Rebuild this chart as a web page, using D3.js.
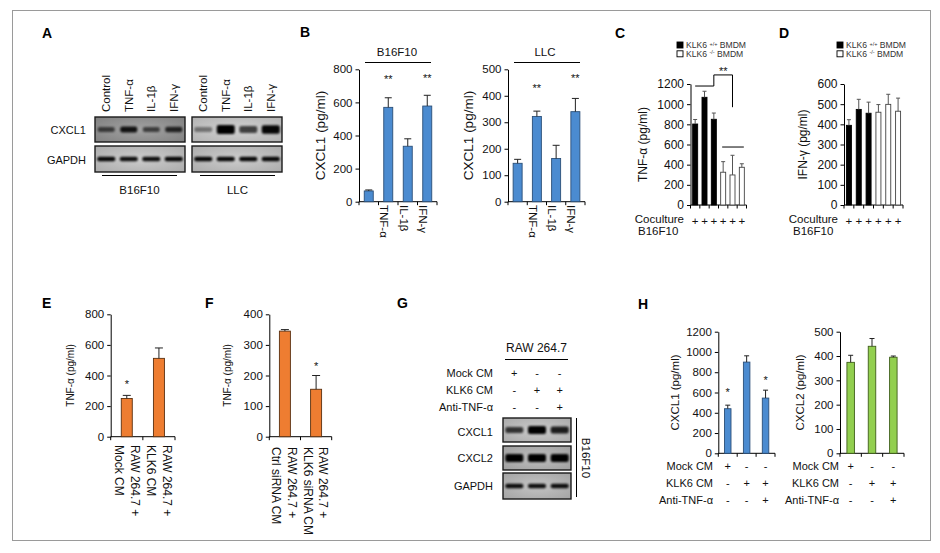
<!DOCTYPE html>
<html><head><meta charset="utf-8">
<script src="https://cdn.jsdelivr.net/npm/d3@7"></script>
<style>
body{margin:0;background:#fff;}
svg{display:block;font-family:"Liberation Sans",Arial,sans-serif;}
</style>
</head><body>
<svg id="fig" width="940" height="553"></svg>
<script>
// ---------------- DATA ----------------
const blotLanesA = ["Control", "TNF-α", "IL-1β", "IFN-γ"];
const blotA_B16_CXCL1 = [0.45, 0.8, 0.45, 0.65];
const blotA_B16_GAPDH = [0.9, 0.85, 0.85, 0.9];
const blotA_LLC_CXCL1 = [0.2, 1.0, 0.55, 0.9];
const blotA_LLC_GAPDH = [0.9, 0.9, 0.9, 0.9];

const catB = ["Control", "TNF-α", "IL-1β", "IFN-γ"];
const tickLabelsB = ["", "TNF-α", "IL-1β", "IFN-γ"];
const b16CXCL1 = [65, 570, 335, 578];
const b16CXCL1Err = [6, 58, 45, 65];
const sigB16 = ["", "**", "", "**"];
const llcCXCL1 = [145, 322, 163, 340];
const llcCXCL1Err = [15, 20, 50, 50];
const sigLLC = ["", "**", "", "**"];

const catCD = ["wt1", "wt2", "wt3", "ko1", "ko2", "ko3"];
const genotypeCD = ["+/+", "+/+", "+/+", "-/-", "-/-", "-/-"];
const legendCD = ["+/+", "-/-"];
const tnfC = [803, 1068, 850, 325, 298, 374];
const tnfCErr = [45, 60, 62, 105, 195, 35];
const ifnD = [395, 474, 455, 460, 499, 465];
const ifnDErr = [28, 50, 55, 38, 50, 65];
const cocultureMarks = ["+", "+", "+", "+", "+", "+"];

const catE = ["Mock", "KLK6"];
const labelsE = [["RAW 264.7 +", "Mock CM"], ["RAW 264.7 +", "KLK6 CM"]];
const tnfE = [250, 512];
const tnfEErr = [20, 68];
const sigE = ["*", ""];

const catF = ["Ctrl", "KLK6si"];
const labelsF = [["RAW 264.7 +", "Ctrl siRNA CM"], ["RAW 264.7 +", "KLK6 siRNA CM"]];
const tnfF = [345, 155];
const tnfFErr = [5, 45];
const sigF = ["", "*"];

const rowLabelsGH = ["Mock CM", "KLK6 CM", "Anti-TNF-α"];
const treatGH = [["+", "-", "-"], ["-", "+", "+"], ["-", "-", "+"]];
const blotG_CXCL1 = [0.6, 1.0, 0.75];
const blotG_CXCL2 = [0.95, 0.95, 0.95];
const blotG_GAPDH = [0.85, 0.85, 0.85];

const catH = ["Mock", "KLK6", "KLK6+Anti"];
const cxcl1H = [440, 900, 545];
const cxcl1HErr = [35, 62, 78];
const sigH1 = ["*", "", "*"];
const cxcl2H = [374, 440, 395];
const cxcl2HErr = [29, 32, 5];

// ---------------- DRAWING ----------------
const svg = d3.select("#fig");
const INK = "#111";

const defs = svg.append("defs");
defs.append("filter").attr("id", "blur").attr("x", "-50%").attr("y", "-100%").attr("width", "200%").attr("height", "300%")
  .append("feGaussianBlur").attr("stdDeviation", 1.1);

// frame
svg.append("rect").attr("x", 12.5).attr("y", 10.5).attr("width", 918).attr("height", 530)
  .attr("fill", "none").attr("stroke", "#9a9a9a").attr("stroke-width", 1);

function label(t, x, y) {
  svg.append("text").attr("x", x).attr("y", y).text(t)
    .attr("font-weight", "bold").attr("font-size", 14).attr("fill", "#000");
}
function txt(t, x, y, fs, anchor) {
  return svg.append("text").attr("x", x).attr("y", y).text(t)
    .attr("font-size", fs).attr("fill", INK).attr("text-anchor", anchor || "start");
}
function rtxt(t, x, y, fs, angle, anchor) {
  return svg.append("text").attr("transform", `translate(${x},${y}) rotate(${angle})`)
    .attr("dy", "0.35em").text(t).attr("font-size", fs).attr("fill", INK)
    .attr("text-anchor", anchor || "middle");
}
function hline(x1, x2, y, w) {
  svg.append("line").attr("x1", x1).attr("x2", x2).attr("y1", y).attr("y2", y)
    .attr("stroke", "#000").attr("stroke-width", w || 1);
}

let gradId = 0;
function gel(x0, y0, w, h, bg, edge, vals, bandW, bandH) {
  const id = "gg" + (gradId++);
  const gr = defs.append("radialGradient").attr("id", id).attr("cx", "50%").attr("cy", "50%").attr("r", "75%");
  gr.append("stop").attr("offset", "0%").attr("stop-color", bg);
  gr.append("stop").attr("offset", "100%").attr("stop-color", edge);
  const g = svg.append("g");
  g.append("rect").attr("x", x0).attr("y", y0).attr("width", w).attr("height", h)
    .attr("fill", `url(#${id})`).attr("stroke", "#1a1a1a").attr("stroke-width", 1.4);
  const lanes = d3.scaleBand().domain(d3.range(vals.length)).range([x0, x0 + w]);
  g.selectAll("rect.band").data(vals).join("rect").attr("class", "band")
    .attr("x", (d, i) => lanes(i) + lanes.bandwidth() / 2 - bandW / 2)
    .attr("width", bandW)
    .attr("y", d => y0 + h / 2 - bandH * (0.45 + 0.55 * d) / 2)
    .attr("height", d => bandH * (0.45 + 0.55 * d))
    .attr("rx", 2)
    .attr("fill", "#050505").attr("opacity", d => Math.min(1, 0.25 + 0.8 * d))
    .attr("filter", "url(#blur)");
  return lanes;
}

function barChart(o) {
  const x = d3.scaleBand().domain(o.cats).range([o.left, o.right]);
  const y = d3.scaleLinear().domain([0, o.max]).range([o.bottom, o.top]);
  const g = svg.append("g");
  const ax = d3.axisLeft(y).tickValues(d3.range(0, o.max + 1, o.step)).tickFormat(d3.format("d"))
    .tickSize(3.5).tickSizeOuter(0).tickPadding(3);
  const ag = g.append("g").attr("transform", `translate(${o.left},0)`).call(ax);
  ag.attr("font-family", null).attr("font-size", null);
  ag.selectAll("text").attr("font-size", o.tickFont).attr("fill", INK);
  ag.selectAll("line,path").attr("stroke", "#000");
  // x axis
  g.append("line").attr("x1", o.left).attr("x2", o.right).attr("y1", o.bottom).attr("y2", o.bottom).attr("stroke", "#000");
  const bounds = d3.range(o.cats.length + 1).map(i => o.left + i * x.step());
  g.selectAll("line.xt").data(bounds).join("line").attr("class", "xt")
    .attr("x1", d => d).attr("x2", d => d).attr("y1", o.bottom).attr("y2", o.bottom + 3.5).attr("stroke", "#000");
  const cx = c => x(c) + x.bandwidth() / 2;
  // bars
  g.selectAll("rect.bar").data(o.vals).join("rect").attr("class", "bar")
    .attr("x", (d, i) => cx(o.cats[i]) - o.barW / 2).attr("width", o.barW)
    .attr("y", d => y(d)).attr("height", d => y(0) - y(d))
    .attr("fill", (d, i) => o.fill(i)).attr("stroke", (d, i) => o.stroke(i)).attr("stroke-width", 0.9);
  // error bars
  g.selectAll("line.ev").data(o.vals).join("line").attr("class", "ev")
    .attr("x1", (d, i) => cx(o.cats[i])).attr("x2", (d, i) => cx(o.cats[i]))
    .attr("y1", d => y(d)).attr("y2", (d, i) => y(d + o.errs[i]))
    .attr("stroke", (d, i) => o.errColor ? o.errColor(i) : "#222").attr("stroke-width", 1);
  g.selectAll("line.ec").data(o.vals).join("line").attr("class", "ec")
    .attr("x1", (d, i) => cx(o.cats[i]) - o.capW / 2).attr("x2", (d, i) => cx(o.cats[i]) + o.capW / 2)
    .attr("y1", (d, i) => y(d + o.errs[i])).attr("y2", (d, i) => y(d + o.errs[i]))
    .attr("stroke", (d, i) => o.errColor ? o.errColor(i) : "#222").attr("stroke-width", 1);
  if (o.sig) {
    g.selectAll("text.sig").data(o.sig).join("text").attr("class", "sig")
      .attr("x", (d, i) => cx(o.cats[i])).attr("y", (d, i) => y(o.vals[i] + o.errs[i]) - (o.sigGap ? o.sigGap[i] : 7))
      .attr("text-anchor", "middle").attr("font-size", 11).attr("fill", INK).text(d => d);
  }
  if (o.ylabel) {
    rtxt(o.ylabel, o.ylabelX, (o.top + o.bottom) / 2, o.ylabelFont, -90, "middle");
  }
  return { x, y, cx };
}

// ===== Panel A =====
label("A", 42, 38);
const lanesB16 = gel(95, 117, 90, 25, "#a3a3a3", "#7e7e7e", blotA_B16_CXCL1, 17, 7);
gel(95, 146, 90, 26, "#cdcdcd", "#a9a9a9", blotA_B16_GAPDH, 18, 5);
const lanesLLC = gel(192, 117, 90, 25, "#d2d2d2", "#b0b0b0", blotA_LLC_CXCL1, 18, 9);
gel(192, 146, 90, 26, "#cdcdcd", "#a9a9a9", blotA_LLC_GAPDH, 18, 5);
blotLanesA.forEach((l, i) => {
  rtxt(l, lanesB16(i) + lanesB16.bandwidth() / 2, 112, 11.5, -90, "start");
  rtxt(l, lanesLLC(i) + lanesLLC.bandwidth() / 2, 112, 11.5, -90, "start");
});
txt("CXCL1", 86, 134, 11, "end");
txt("GAPDH", 86, 163.5, 11, "end");
hline(102, 177, 175.5, 1);
hline(200, 275, 175.5, 1);
txt("B16F10", 139.5, 194, 11.5, "middle");
txt("LLC", 237.5, 194, 11.5, "middle");

// ===== Panel B =====
label("B", 300, 37);
const cB1 = barChart({
  left: 359, right: 437, top: 69.3, bottom: 201.7, max: 800, step: 200,
  cats: catB, vals: b16CXCL1, errs: b16CXCL1Err, barW: 9, capW: 7, tickFont: 11.5,
  fill: () => "#4b8bd0", stroke: () => "#2b4f78",
  sig: sigB16, sigGap: [0, 15, 0, 13], ylabel: "CXCL1 (pg/ml)", ylabelX: 320, ylabelFont: 13.5
});
tickLabelsB.forEach((t, i) => rtxt(t, cB1.cx(catB[i]) - 4, 205, 11.5, 90, "start"));
txt("B16F10", 397, 56, 11.5, "middle");
hline(365, 431, 62.5);

const cB2 = barChart({
  left: 508, right: 585, top: 69.3, bottom: 201.7, max: 500, step: 100,
  cats: catB, vals: llcCXCL1, errs: llcCXCL1Err, barW: 9, capW: 7, tickFont: 11.5,
  fill: () => "#4b8bd0", stroke: () => "#2b4f78",
  sig: sigLLC, sigGap: [0, 19, 0, 16], ylabel: "CXCL1 (pg/ml)", ylabelX: 468, ylabelFont: 13.5
});
tickLabelsB.forEach((t, i) => rtxt(t, cB2.cx(catB[i]) - 4, 205, 11.5, 90, "start"));
txt("LLC", 545, 56, 11.5, "middle");
hline(514, 580, 62.5);

// ===== Panels C & D =====
function legend(x, y) {
  legendCD.forEach((gt, i) => {
    svg.append("rect").attr("x", x).attr("y", y + i * 8.8 - 3.5).attr("width", 6).attr("height", 6)
      .attr("fill", i === 0 ? "#000" : "#fff").attr("stroke", "#000").attr("stroke-width", 0.9);
    const t = svg.append("text").attr("x", x + 9).attr("y", y + i * 8.8 + 2.5).attr("font-size", 8.6).attr("fill", "#333");
    t.append("tspan").text("KLK6 ");
    t.append("tspan").text(gt).attr("font-size", 5.5).attr("dy", -2.5);
    t.append("tspan").text(" BMDM").attr("dy", 2.5);
  });
}
label("C", 615, 38);
legend(677, 45.5);
const cC = barChart({
  left: 690.5, right: 746.5, top: 84, bottom: 205, max: 1200, step: 200,
  cats: catCD, vals: tnfC, errs: tnfCErr, barW: 5, capW: 4, tickFont: 12,
  fill: i => genotypeCD[i] === "+/+" ? "#000" : "#fff", stroke: i => genotypeCD[i] === "+/+" ? "#000" : "#444",
  errColor: () => "#555",
  ylabel: "TNF-α (pg/ml)", ylabelX: 643, ylabelFont: 12
});
// significance annotations C
{
  const xa = cC.cx(catCD[0]), xb = cC.cx(catCD[2]), xc = cC.cx(catCD[3]), xd = cC.cx(catCD[5]);
  const xm2 = cC.cx(catCD[4]);
  hline(xa, xb, cC.y(1180));
  svg.append("path").attr("d", `M${xb},${cC.y(1180)} V${cC.y(1290)} H${xm2} V${cC.y(970)}`)
    .attr("fill", "none").attr("stroke", "#000");
  hline(xc - 1, xd + 2, cC.y(575));
  txt("**", (xb + xm2) / 2, cC.y(1330) + 4, 11, "middle");
}
txt("Coculture", 684, 222.5, 11.5, "end");
txt("B16F10", 638, 235, 11.5, "start");
cocultureMarks.forEach((m, i) => txt(m, cC.cx(catCD[i]), 225, 11.5, "middle"));

label("D", 779, 38);
legend(837, 45.5);
const cD = barChart({
  left: 844, right: 903, top: 84, bottom: 205, max: 600, step: 100,
  cats: catCD, vals: ifnD, errs: ifnDErr, barW: 5, capW: 4, tickFont: 12,
  fill: i => genotypeCD[i] === "+/+" ? "#000" : "#fff", stroke: i => genotypeCD[i] === "+/+" ? "#000" : "#444",
  errColor: () => "#555",
  ylabel: "IFN-γ (pg/ml)", ylabelX: 803, ylabelFont: 12
});
txt("Coculture", 838, 222.5, 11.5, "end");
txt("B16F10", 793, 235, 11.5, "start");
cocultureMarks.forEach((m, i) => txt(m, cD.cx(catCD[i]), 225, 11.5, "middle"));

// ===== Panel E =====
label("E", 42, 308);
const cE = barChart({
  left: 110.7, right: 175, top: 314.3, bottom: 436.7, max: 800, step: 200,
  cats: catE, vals: tnfE, errs: tnfEErr, barW: 11, capW: 8, tickFont: 11.5,
  fill: () => "#ee7d31", stroke: () => "#5a3010",
  sig: sigE, sigGap: [7, 7], ylabel: "TNF-α (pg/ml)", ylabelX: 70, ylabelFont: 10
});
labelsE.forEach((ls, i) => ls.forEach((l, j) =>
  rtxt(l, cE.cx(catE[i]) + 8 - j * 15.7, 445, 12, 90, "start")));

// ===== Panel F =====
label("F", 205, 308);
const cF = barChart({
  left: 269.3, right: 331.7, top: 314.3, bottom: 436.7, max: 400, step: 100,
  cats: catF, vals: tnfF, errs: tnfFErr, barW: 11, capW: 8, tickFont: 11.5,
  fill: () => "#ee7d31", stroke: () => "#5a3010",
  sig: sigF, sigGap: [7, 6], ylabel: "TNF-α (pg/ml)", ylabelX: 227, ylabelFont: 10
});
labelsF.forEach((ls, i) => ls.forEach((l, j) =>
  rtxt(l, cF.cx(catF[i]) + 7 - j * 15.2, 447, 12, 90, "start")));

// ===== Panel G =====
label("G", 397, 308);
txt("RAW 264.7", 536.5, 352, 12, "middle");
hline(505, 568, 359.5);
const lanesG = gel(503, 418, 68, 24, "#cbcbcb", "#a8a8a8", blotG_CXCL1, 18, 8);
gel(503, 446, 68, 24, "#c0c0c0", "#9c9c9c", blotG_CXCL2, 18, 8);
gel(503, 473, 68, 26, "#c4c4c4", "#a2a2a2", blotG_GAPDH, 18, 5);
rowLabelsGH.forEach((r, j) => {
  txt(r, 493, 376.5 + j * 17.2, 11, "end");
  treatGH[j].forEach((m, i) => txt(m, lanesG(i) + lanesG.bandwidth() / 2, 376.5 + j * 17.2, 11, "middle"));
});
txt("CXCL1", 493, 435.5, 11, "end");
txt("CXCL2", 493, 462, 11, "end");
txt("GAPDH", 493, 490, 11, "end");
svg.append("line").attr("x1", 576.5).attr("x2", 576.5).attr("y1", 418).attr("y2", 497).attr("stroke", "#000");
rtxt("B16F10", 586, 458, 11.5, 90, "middle");

// ===== Panel H =====
label("H", 638, 309);
const cH1 = barChart({
  left: 718.3, right: 775, top: 331.7, bottom: 453.3, max: 1200, step: 200,
  cats: catH, vals: cxcl1H, errs: cxcl1HErr, barW: 6.5, capW: 5, tickFont: 11.5,
  fill: () => "#4b8bd0", stroke: () => "#2b4f78",
  sig: sigH1, sigGap: [9, 0, 6], ylabel: "CXCL1 (pg/ml)", ylabelX: 675, ylabelFont: 11.5
});
const cH2 = barChart({
  left: 840, right: 904, top: 331.7, bottom: 453.3, max: 500, step: 100,
  cats: catH, vals: cxcl2H, errs: cxcl2HErr, barW: 7.5, capW: 5, tickFont: 11.5,
  fill: () => "#92cf4f", stroke: () => "#3f5f1a",
  ylabel: "CXCL2 (pg/ml)", ylabelX: 800, ylabelFont: 11.5
});
rowLabelsGH.forEach((r, j) => {
  const yy = 470 + j * 17;
  txt(r, 713, yy, 11, "end");
  txt(r, 839, yy, 11, "end");
  treatGH[j].forEach((m, i) => {
    txt(m, cH1.cx(catH[i]), yy, 11, "middle");
    txt(m, cH2.cx(catH[i]), yy, 11, "middle");
  });
});
</script>
</body></html>
